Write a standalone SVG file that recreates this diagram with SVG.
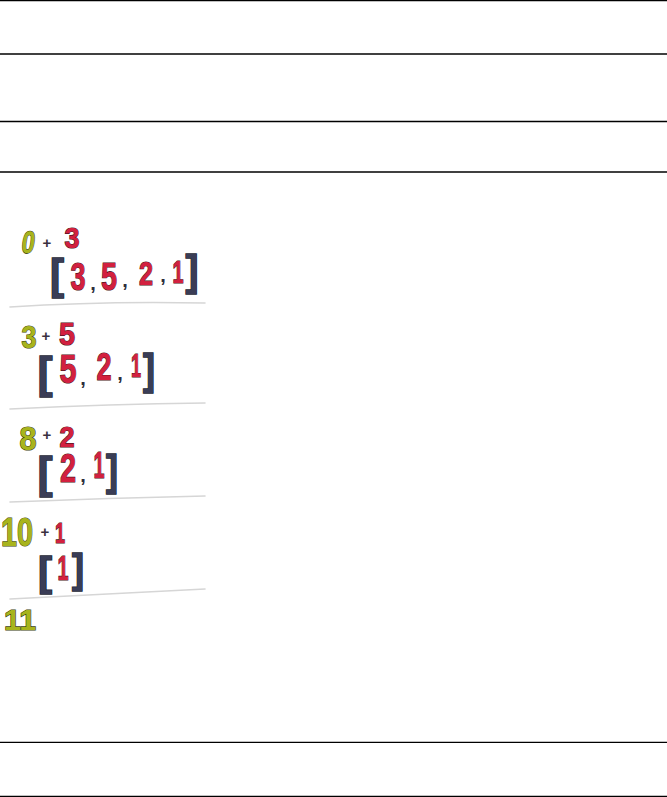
<svg xmlns="http://www.w3.org/2000/svg" width="667" height="797" viewBox="0 0 667 797">
<style>
.rule{stroke:#000;stroke-width:1.3;fill:none}
.sep{stroke:#d6d6d6;stroke-width:1.6;fill:none;stroke-linecap:round}
text{font-family:"Liberation Sans",Arial,sans-serif;font-weight:bold;text-anchor:middle;paint-order:stroke}
.g{fill:#a8b41c;stroke:#3d4210;stroke-width:1.2}
.r{fill:#d3203f;stroke:#4a1420;stroke-width:1.2}
.b{fill:#3a3d56;stroke:#20222f;stroke-width:1.4}
.p{fill:#3a3040;font-size:15px}
.c{fill:#2e2e3a;font-size:20px}
</style>
<rect width="667" height="797" fill="#fff"/>
<g id="rules">
<line class="rule" x1="0" y1="0.6" x2="667" y2="0.6"/>
<line class="rule" x1="0" y1="54" x2="667" y2="54"/>
<line class="rule" x1="0" y1="121.5" x2="667" y2="121.5"/>
<line class="rule" x1="0" y1="172" x2="667" y2="172"/>
<line class="rule" x1="0" y1="742.3" x2="667" y2="742.3"/>
<line class="rule" x1="0" y1="796.5" x2="667" y2="796.5"/>
</g>
<g id="separators">
<path class="sep" d="M10 307 Q100 301 205 303"/>
<path class="sep" d="M10 409 Q110 404 205 403"/>
<path class="sep" d="M10 502 Q110 498 205 496"/>
<path class="sep" d="M10 599 Q110 594 205 589"/>
</g>
<g id="step1">
<text class="g" x="27" y="253" font-size="31" textLength="13" lengthAdjust="spacingAndGlyphs" transform="skewX(-8) translate(35.5 0)">0</text>
<text class="p" x="47" y="248">+</text>
<text class="r" x="72" y="248" font-size="30" textLength="15" lengthAdjust="spacingAndGlyphs">3</text>
<text class="b" x="57" y="289" font-size="42" textLength="14" lengthAdjust="spacingAndGlyphs">[</text>
<text class="r" x="78" y="290" font-size="39" textLength="15" lengthAdjust="spacingAndGlyphs">3</text>
<text class="c" x="93" y="290">,</text>
<text class="r" x="109" y="290" font-size="39" textLength="16" lengthAdjust="spacingAndGlyphs">5</text>
<text class="c" x="125" y="287">,</text>
<text class="r" x="146" y="285" font-size="33" textLength="14" lengthAdjust="spacingAndGlyphs">2</text>
<text class="c" x="163" y="282">,</text>
<text class="r" x="178" y="283" font-size="31" textLength="11" lengthAdjust="spacingAndGlyphs">1</text>
<text class="b" x="192" y="285" font-size="42" textLength="13" lengthAdjust="spacingAndGlyphs">]</text>
</g>
<g id="step2">
<text class="g" x="29" y="348" font-size="32" textLength="15" lengthAdjust="spacingAndGlyphs">3</text>
<text class="p" x="46" y="341">+</text>
<text class="r" x="67" y="345" font-size="32" textLength="16" lengthAdjust="spacingAndGlyphs">5</text>
<text class="b" x="45" y="388" font-size="44" textLength="15" lengthAdjust="spacingAndGlyphs">[</text>
<text class="r" x="68" y="383" font-size="41" textLength="17" lengthAdjust="spacingAndGlyphs">5</text>
<text class="c" x="83" y="385">,</text>
<text class="r" x="104" y="380" font-size="38" textLength="15" lengthAdjust="spacingAndGlyphs">2</text>
<text class="c" x="120" y="380">,</text>
<text class="r" x="136" y="377" font-size="34" textLength="10" lengthAdjust="spacingAndGlyphs">1</text>
<text class="b" x="149" y="384" font-size="43" textLength="12" lengthAdjust="spacingAndGlyphs">]</text>
</g>
<g id="step3">
<text class="g" x="28" y="450" font-size="33" textLength="17" lengthAdjust="spacingAndGlyphs">8</text>
<text class="p" x="47" y="440">+</text>
<text class="r" x="67" y="447" font-size="29" textLength="15" lengthAdjust="spacingAndGlyphs">2</text>
<text class="b" x="45" y="488" font-size="44" textLength="15" lengthAdjust="spacingAndGlyphs">[</text>
<text class="r" x="68" y="482" font-size="41" textLength="16" lengthAdjust="spacingAndGlyphs">2</text>
<text class="c" x="83" y="482">,</text>
<text class="r" x="99" y="478" font-size="37" textLength="11" lengthAdjust="spacingAndGlyphs">1</text>
<text class="b" x="112" y="485" font-size="42" textLength="12" lengthAdjust="spacingAndGlyphs">]</text>
</g>
<g id="step4">
<text class="g" x="17" y="546" font-size="40" textLength="32" lengthAdjust="spacingAndGlyphs">10</text>
<text class="p" x="45" y="537">+</text>
<text class="r" x="60" y="543" font-size="30" textLength="10" lengthAdjust="spacingAndGlyphs">1</text>
<text class="b" x="45" y="586" font-size="40" textLength="14" lengthAdjust="spacingAndGlyphs">[</text>
<text class="r" x="63" y="580" font-size="35" textLength="11" lengthAdjust="spacingAndGlyphs">1</text>
<text class="b" x="78" y="583" font-size="40" textLength="12" lengthAdjust="spacingAndGlyphs">]</text>
</g>
<g id="result">
<text class="g" x="20" y="630" font-size="29" textLength="32" lengthAdjust="spacingAndGlyphs">11</text>
</g>
</svg>
